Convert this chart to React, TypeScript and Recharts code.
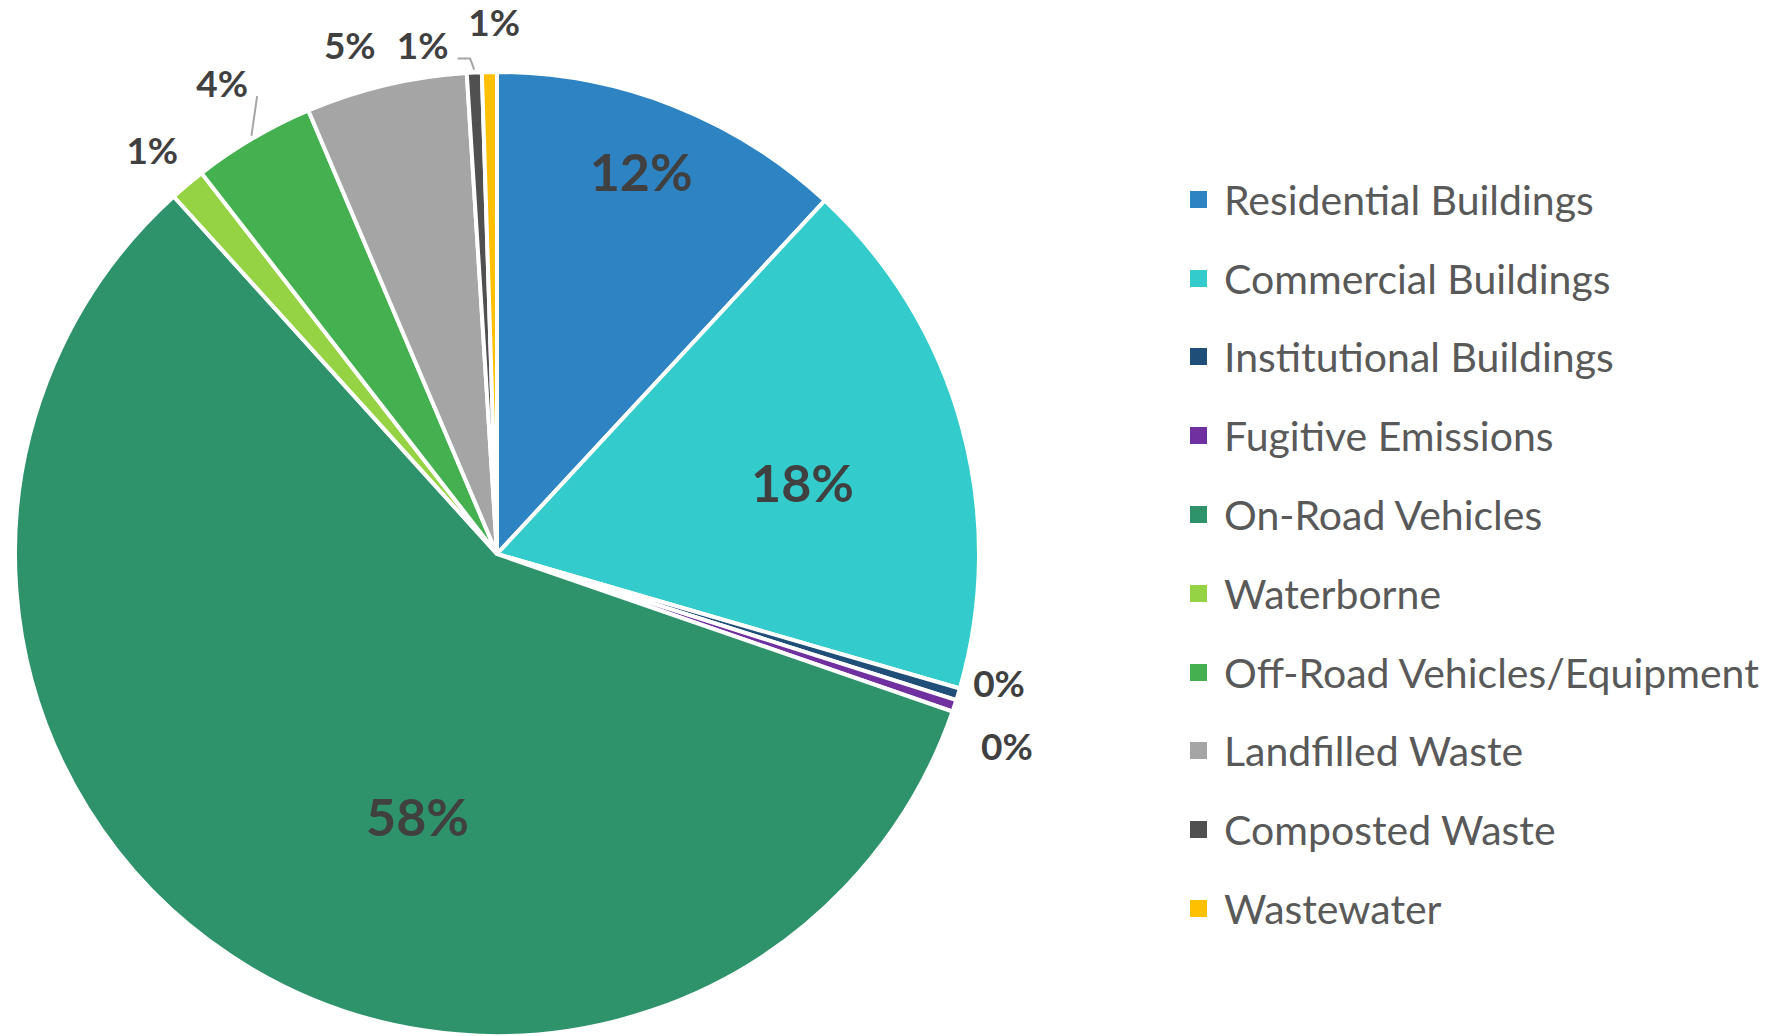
import { Cell, Legend, Pie, PieChart } from "recharts";

// share of total emissions, percent, clockwise from 12 o'clock
const categories = [
  "Residential Buildings",
  "Commercial Buildings",
  "Institutional Buildings",
  "Fugitive Emissions",
  "On-Road Vehicles",
  "Waterborne",
  "Off-Road Vehicles/Equipment",
  "Landfilled Waste",
  "Composted Waste",
  "Wastewater",
];
const shares = [11.9, 17.6, 0.4, 0.4, 58.0, 1.2, 4.1, 5.4, 0.5, 0.5];
const colors = [
  "#2E83C3",
  "#33CBCC",
  "#1F4E79",
  "#7030A0",
  "#2E936B",
  "#95D244",
  "#44B050",
  "#A5A5A5",
  "#505050",
  "#FFC000",
];

const chartData = categories.map((name, i) => ({ name, value: shares[i] }));

// label placement, like excel's best fit: radius as a fraction of the pie radius, turn in degrees clockwise
type Placement = { r: number; turn: number; inside?: boolean; leader?: "straight" | "elbow" };
const placement: Record<string, Placement> = {
  "Residential Buildings": { r: 0.849, turn: -0.8, inside: true },
  "Commercial Buildings": { r: 0.651, turn: 2.3, inside: true },
  "Institutional Buildings": { r: 1.075, turn: -2.6 },
  "Fugitive Emissions": { r: 1.13, turn: 2.2 },
  "On-Road Vehicles": { r: 0.568, turn: -16.6, inside: true },
  Waterborne: { r: 1.102, turn: -0.5 },
  "Off-Road Vehicles/Equipment": { r: 1.133, turn: 0.2, leader: "straight" },
  "Landfilled Waste": { r: 1.1, turn: -2.8 },
  "Composted Waste": { r: 1.068, turn: -5.6, leader: "elbow" },
  Wastewater: { r: 1.104, turn: 0.6 },
};

const RAD = Math.PI / 180;

function polar(cx: number, cy: number, r: number, clockDeg: number) {
  return { x: cx + r * Math.sin(clockDeg * RAD), y: cy - r * Math.cos(clockDeg * RAD) };
}

function SliceLabel(props: any) {
  const { cx, cy, midAngle, outerRadius, index, value } = props;
  const name = categories[index];
  const p = placement[name];
  const mid = 90 - midAngle; // recharts angle -> clockwise from top
  const pos = polar(cx, cy, outerRadius * p.r, mid + p.turn);
  let leader = null;
  if (p.leader) {
    const end = polar(cx, cy, outerRadius + 3, mid);
    const sx = pos.x + 35;
    const sy = pos.y + 14;
    const pts =
      p.leader === "elbow"
        ? `${sx},${sy} ${end.x - 4},${sy} ${end.x},${end.y}`
        : `${sx},${sy} ${end.x},${end.y}`;
    leader = <polyline points={pts} fill="none" stroke="#A6A6A6" strokeWidth={2} />;
  }
  return (
    <g>
      {leader}
      <text
        x={pos.x}
        y={pos.y}
        textAnchor="middle"
        dominantBaseline="central"
        fill="#404040"
        fontSize={p.inside ? 52 : 37}
        fontWeight={700}
        fontFamily="Lato, sans-serif"
      >
        {`${Math.round(value)}%`}
      </text>
    </g>
  );
}

// recharts sorts pie legend entries by name, so list them in slice order here
function LegendList() {
  return (
    <ul style={{ listStyle: "none", margin: 0, padding: 0 }}>
      {categories.map((name, i) => (
        <li key={name} style={{ display: "flex", alignItems: "center", height: 78.8 }}>
          <span
            style={{
              display: "inline-block",
              width: 17,
              height: 17,
              background: colors[i],
              marginRight: 17,
            }}
          />
          <span style={{ fontSize: 41, color: "#595959", fontFamily: "Lato, sans-serif" }}>
            {name}
          </span>
        </li>
      ))}
    </ul>
  );
}

export default function App() {
  return (
    <div style={{ width: 1767, height: 1036, background: "#fff" }}>
      <style>{`body{margin:0;background:#fff}`}</style>
      <PieChart width={1767} height={1036} margin={{ top: 0, right: 0, bottom: 0, left: 0 }}>
        <Pie
          data={chartData}
          dataKey="value"
          nameKey="name"
          cx={497}
          cy={554}
          outerRadius={482}
          startAngle={90}
          endAngle={-270}
          stroke="#fff"
          strokeWidth={4}
          label={SliceLabel}
          labelLine={false}
          isAnimationActive={false}
        >
          {chartData.map((d, i) => (
            <Cell key={d.name} fill={colors[i]} />
          ))}
        </Pie>
        <Legend
          layout="vertical"
          align="right"
          verticalAlign="middle"
          content={LegendList}
          wrapperStyle={{ position: "absolute", left: 1190, top: 160, width: 577 }}
        />
      </PieChart>
    </div>
  );
}
